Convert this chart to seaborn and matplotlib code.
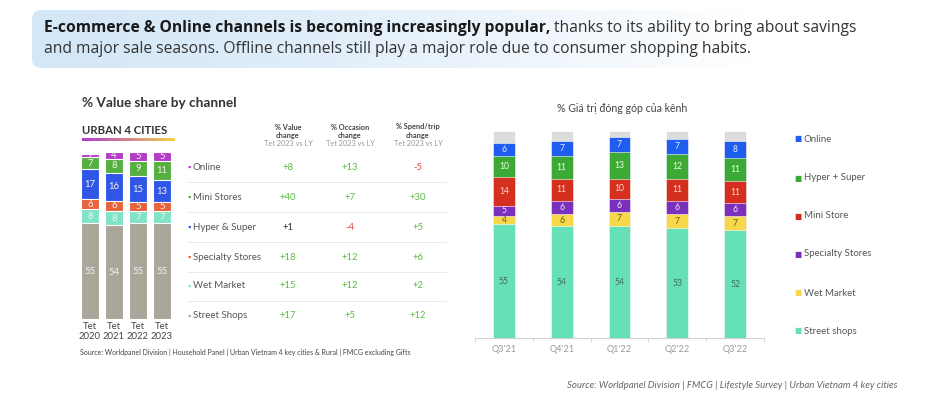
import numpy as np
import pandas as pd
import matplotlib
matplotlib.use("Agg")
import matplotlib.pyplot as plt
import seaborn as sns
from matplotlib.patches import FancyBboxPatch
from matplotlib.colors import to_rgb

# ---------------------------------------------------------------
# data
# ---------------------------------------------------------------
tet_years = ["Tet\n2020", "Tet\n2021", "Tet\n2022", "Tet\n2023"]
street_shops = [55, 54, 55, 55]
wet_market = [8, 8, 7, 7]
specialty_stores = [6, 6, 5, 5]
hyper_super = [17, 16, 15, 13]
mini_stores = [7, 8, 9, 11]
online = [2, 4, 5, 5]

# table rows (top to bottom)
table_rows = ["Online", "Mini Stores", "Hyper & Super", "Specialty Stores", "Wet Market", "Street Shops"]
value_change = [8, 40, 1, 18, 15, 17]
occasion_change = [13, 7, -4, 12, 12, 5]
spend_change = [-5, 30, 5, 6, 2, 12]

quarters = ["Q3'21", "Q4'21", "Q1'22", "Q2'22", "Q3'22"]
q_street = [55, 54, 54, 53, 52]
q_wet = [4, 6, 7, 7, 7]
q_specialty = [5, 6, 6, 6, 6]
q_mini = [14, 11, 10, 11, 11]
q_hyper = [10, 11, 13, 12, 11]
q_online = [6, 7, 7, 7, 8]
q_other = [6, 5, 3, 4, 5]
right_legend = ["Online", "Hyper + Super", "Mini Store", "Specialty Stores", "Wet Market", "Street shops"]

# colours
left_colors = ["#aaa69a", "#7fe3c6", "#e8633b", "#2f56e6", "#56b040", "#b43cc9"]
right_colors = ["#66e0b9", "#f7d84a", "#7a30bd", "#d5301f", "#3da935", "#1f5cf0", "#dcdcdc"]

W, H = 928, 400
sns.set_theme(style="white")
plt.rcParams['font.family'] = ['Lato', 'DejaVu Sans']

fig = plt.figure(figsize=(W / 100, H / 100), dpi=100)


def rect(x0, y0, x1, y1):
    # pixel box (top-left origin) -> figure fraction
    return [x0 / W, 1 - y1 / H, (x1 - x0) / W, (y1 - y0) / H]


# background axes in pixel coordinates
bg = fig.add_axes([0, 0, 1, 1])
bg.set_xlim(0, W)
bg.set_ylim(H, 0)
bg.axis("off")

# banner with gradient
c0 = np.array(to_rgb("#d4e7f7"))
c1 = np.array(to_rgb("#ffffff"))
t = np.clip(np.linspace(0, 1.15, 256), 0, 1) ** 1.3
grad = (c0[None, :] * (1 - t[:, None]) + c1[None, :] * t[:, None])[None, :, :]
im = bg.imshow(grad, extent=[32, 860, 68, 10], aspect="auto", zorder=0)
box = FancyBboxPatch((32, 10), 828, 58, boxstyle="round,pad=0,rounding_size=9",
                     facecolor="none", edgecolor="none", transform=bg.transData)
bg.add_patch(box)
im.set_clip_path(box)

renderer = fig.canvas.get_renderer()
banner_font = ["Open Sans", "DejaVu Sans"]
bold_txt = "E-commerce & Online channels is becoming increasingly popular,"
rest_txt = " thanks to its ability to bring about savings"
fs = 10
t1 = bg.text(44, 28, bold_txt, fontsize=fs, fontweight="bold", color="#1a1a1a", va="center", family=banner_font)
t2 = bg.text(0, 28, rest_txt, fontsize=fs, color="#333333", va="center", family=banner_font)
total = t1.get_window_extent(renderer).width + t2.get_window_extent(renderer).width
fs = fs * 814 / total
t1.set_fontsize(fs)
t2.set_fontsize(fs)
t2.set_x(44 + t1.get_window_extent(renderer).width)
bg.text(44, 49, "and major sale seasons. Offline channels still play a major role due to consumer shopping habits.",
        fontsize=fs, color="#333333", va="center", family=banner_font)

# ---------------------------------------------------------------
# stacked bar helper (seaborn overlay of cumulative totals)
# ---------------------------------------------------------------
def stacked(ax, cats, layers, colors, width, lw, label_colors, fs_lab, skip_last=False):
    cum = np.cumsum(np.array(layers), axis=0)
    for i in range(len(layers) - 1, -1, -1):
        sns.barplot(x=cats, y=cum[i], order=cats, color=colors[i], width=width, saturation=1,
                    edgecolor="white", linewidth=lw, ax=ax)
    n_lab = len(layers) - 1 if skip_last else len(layers)
    for i in range(n_lab):
        for j, v in enumerate(layers[i]):
            ax.text(j, cum[i][j] - v / 2, str(v), ha="center", va="center",
                    fontsize=fs_lab, color=label_colors[i])


# ---------------------------------------------------------------
# left panel
# ---------------------------------------------------------------
bg.text(82, 103, "% Value share by channel", fontsize=9.8, fontweight="bold", color="#333333", va="center")
bg.text(82, 130, "URBAN 4 CITIES", fontsize=8.2, fontweight="bold", color="#333333", va="center")
ul = np.linspace(0, 1, 256)
uc = (np.array(to_rgb("#b13bd0"))[None, :] * (1 - ul[:, None]) +
      np.array(to_rgb("#f3d24a"))[None, :] * ul[:, None])[None, :, :]
bg.imshow(uc, extent=[82, 175, 141.5, 139], aspect="auto", zorder=1)

axl = fig.add_axes(rect(78, 152, 174, 319))
stacked(axl, tet_years, [street_shops, wet_market, specialty_stores, hyper_super, mini_stores, online],
        left_colors, 0.71, 0.8, ["#f2f2ee"] * 6, 6.8)
axl.set_xlim(-0.5, 3.5)
axl.set_ylim(0, 96)
axl.set_yticks([])
axl.set_xlabel("")
axl.set_ylabel("")
axl.tick_params(axis="x", length=0, pad=2, labelsize=6.8, labelcolor="#444444")
for s in axl.spines.values():
    s.set_visible(False)

# legend + table
row_y = [167, 197, 227, 257, 286, 316]
leg_cols = left_colors[::-1]
for k, name in enumerate(table_rows):
    bg.text(187.5, row_y[k], "\u25aa", fontsize=6, color=leg_cols[k], va="center", ha="left")
    bg.text(193, row_y[k], name, fontsize=7, color="#555555", va="center", ha="left")
for k in range(len(row_y) - 1):
    ym = (row_y[k] + row_y[k + 1]) / 2
    bg.plot([188, 446], [ym, ym], color="#e6e6e6", lw=0.6)

headers = [("% Value", "change"), ("% Occasion", "change"), ("% Spend/trip", "change")]
col_x = [288, 350, 418]
for (h1, h2), cx in zip(headers, col_x):
    bg.text(cx, 127, h1, fontsize=5.3, fontweight="bold", color="#444444", ha="center", va="center")
    bg.text(cx, 135.5, h2, fontsize=5.3, fontweight="bold", color="#444444", ha="center", va="center")
    bg.text(cx, 143.5, "Tet 2023 vs LY", fontsize=5.3, color="#999999", ha="center", va="center")


def chg_color(v):
    if v < 0:
        return "#e24a3b"
    if v <= 1:
        return "#333333"
    return "#5cbb45"


for col, cx in zip([value_change, occasion_change, spend_change], col_x):
    for k, v in enumerate(col):
        bg.text(cx, row_y[k], f"{v:+d}", fontsize=6.8, color=chg_color(v), ha="center", va="center")

bg.text(80, 352, "Source: Worldpanel Division | Household Panel | Urban Vietnam 4 key cities & Rural | FMCG excluding Gifts",
        fontsize=5.0, color="#444444", va="center")

# ---------------------------------------------------------------
# right panel
# ---------------------------------------------------------------
bg.text(622, 109, "% Giá trị đóng góp của kênh", fontsize=7.6, color="#444444", ha="center", va="center")

axr = fig.add_axes(rect(475, 131, 764, 338))
right_label_colors = ["#3d6e60", "#6b5d1a", "#f0e8ff", "#ffd9d0", "#e8ffe0", "#e8eeff", "#ffffff"]
stacked(axr, quarters, [q_street, q_wet, q_specialty, q_mini, q_hyper, q_online, q_other],
        right_colors, 0.38, 0.4, right_label_colors, 6.2, skip_last=True)
axr.set_xlim(-0.5, 4.5)
axr.set_ylim(0, 100)
axr.set_yticks([])
axr.set_xlabel("")
axr.set_ylabel("")
for name in ["top", "left", "right"]:
    axr.spines[name].set_visible(False)
axr.spines["bottom"].set_color("#d0d0d0")
axr.spines["bottom"].set_linewidth(0.8)
axr.set_xticks(np.arange(-0.5, 5, 1), minor=True)
axr.tick_params(axis="x", which="major", length=0, pad=5, labelsize=6.6, labelcolor="#9a9a9a")
axr.tick_params(axis="x", which="minor", length=3, width=0.6, color="#d0d0d0", direction="out", bottom=True)

leg_y = [139, 178, 216, 254, 293, 331]
leg_c = right_colors[:6][::-1]
for k, name in enumerate(right_legend):
    bg.text(794, leg_y[k], "\u25a0", fontsize=5.5, color=leg_c[k], va="center", ha="left")
    bg.text(804, leg_y[k], name, fontsize=6.9, color="#555555", va="center", ha="left")

bg.text(898, 386, "Source: Worldpanel Division | FMCG | Lifestyle Survey | Urban Vietnam 4 key cities",
        fontsize=6.9, style="italic", color="#666666", ha="right", va="center")

fig.savefig("out.png", dpi=100)
